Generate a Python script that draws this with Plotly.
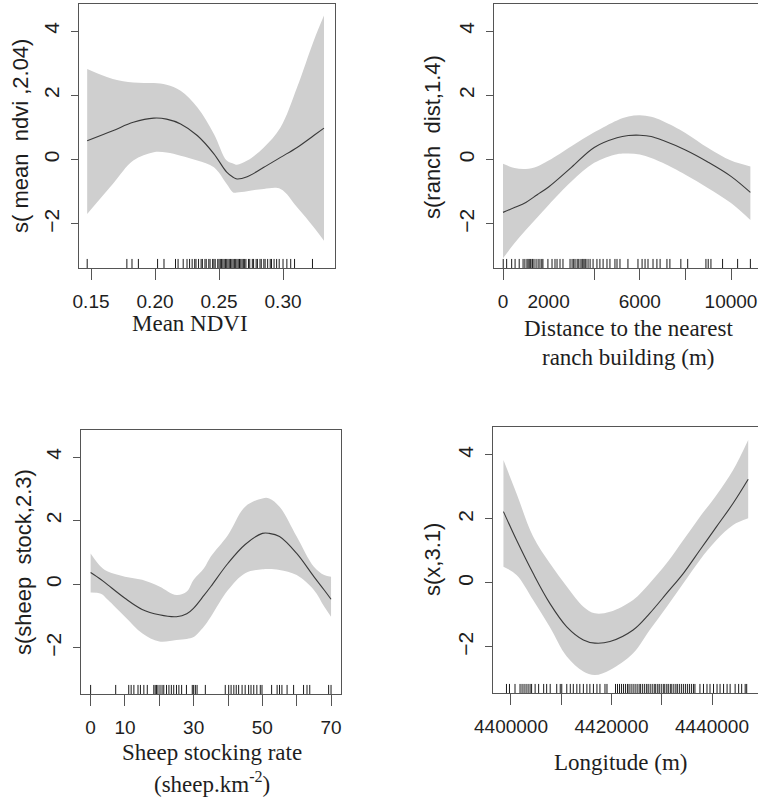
import plotly.graph_objects as go

# ---------------- Data ----------------
# Panel 1: Mean NDVI
ndvi_x = [0.147, 0.167, 0.183, 0.199, 0.209, 0.220, 0.233, 0.246, 0.256, 0.261, 0.264,
          0.272, 0.285, 0.298, 0.311, 0.324, 0.332]
ndvi_fit = [0.59, 0.90, 1.16, 1.29, 1.26, 1.11, 0.75, 0.18, -0.39, -0.55, -0.60,
            -0.53, -0.24, 0.07, 0.38, 0.75, 0.98]
ndvi_upper = [2.82, 2.51, 2.40, 2.38, 2.33, 2.14, 1.63, 0.80, -0.03, -0.12, -0.16,
              -0.03, 0.38, 1.00, 2.25, 3.70, 4.48]
ndvi_lower = [-1.69, -0.76, -0.03, 0.23, 0.22, 0.12, -0.03, -0.24, -0.76, -1.02, -1.02,
              -0.98, -0.91, -0.91, -1.48, -2.10, -2.52]
ndvi_rug = [0.147, 0.178, 0.182, 0.187, 0.202, 0.207, 0.216, 0.218, 0.222, 0.225, 0.227,
            0.229, 0.231, 0.232, 0.234, 0.236, 0.237, 0.239, 0.240, 0.242, 0.243, 0.245,
            0.246, 0.247, 0.249, 0.250, 0.251, 0.252, 0.253, 0.254, 0.255, 0.256, 0.257,
            0.258, 0.259, 0.260, 0.261, 0.262, 0.263, 0.264, 0.265, 0.266, 0.267, 0.268,
            0.269, 0.270, 0.271, 0.273, 0.274, 0.276, 0.277, 0.279, 0.280, 0.282, 0.283,
            0.285, 0.286, 0.288, 0.290, 0.291, 0.293, 0.295, 0.297, 0.300, 0.303, 0.306,
            0.309, 0.323]

# Panel 2: Distance to the nearest ranch building (m)
ranch_x = [0, 500, 1000, 1500, 2000, 3000, 4000, 5000, 5500, 6000, 6500, 7000, 8000,
           9000, 10000, 10850]
ranch_fit = [-1.64, -1.49, -1.33, -1.09, -0.85, -0.24, 0.38, 0.68, 0.75, 0.76, 0.72,
             0.60, 0.30, -0.08, -0.52, -1.02]
ranch_upper = [-0.13, -0.26, -0.29, -0.21, -0.03, 0.42, 0.85, 1.22, 1.34, 1.38, 1.33,
               1.20, 0.83, 0.36, -0.03, -0.21]
ranch_lower = [-3.07, -2.60, -2.19, -1.80, -1.41, -0.68, -0.10, 0.17, 0.19, 0.16, 0.05,
               -0.10, -0.47, -0.89, -1.35, -1.88]
ranch_rug = [10, 160, 380, 530, 710, 880, 960, 1050, 1100, 1150, 1200, 1270, 1300, 1360,
             1450, 1540, 1620, 1700, 1750, 1970, 2150, 2280, 2370, 2500, 2630, 2940, 3030,
             3100, 3160, 3250, 3300, 3380, 3460, 3500, 3550, 3600, 3640, 3730, 3820, 3950,
             4120, 4250, 4390, 4560, 4690, 4910, 5000, 5130, 5480, 5920, 6100, 6230, 6360,
             6580, 6750, 6890, 7190, 7320, 7800, 8100, 8900, 9000, 9120, 9630, 10290, 10850]

# Panel 3: Sheep stocking rate
sheep_x = [0, 3, 5, 10, 15, 20, 25, 28, 30, 33, 35, 40, 45, 50, 52, 55, 60, 65, 68, 70]
sheep_fit = [0.37, 0.15, -0.02, -0.44, -0.79, -0.96, -1.02, -0.93, -0.75, -0.35, -0.07,
             0.66, 1.25, 1.60, 1.60, 1.50, 0.97, 0.24, -0.18, -0.47]
sheep_upper = [0.97, 0.55, 0.40, 0.24, 0.14, -0.07, -0.34, -0.23, 0.14, 0.50, 0.87,
               1.55, 2.44, 2.70, 2.70, 2.44, 1.50, 0.55, 0.29, 0.24]
sheep_lower = [-0.26, -0.30, -0.49, -1.02, -1.54, -1.80, -1.75, -1.72, -1.66, -1.33,
               -1.02, -0.18, 0.35, 0.47, 0.48, 0.45, 0.29, -0.18, -0.70, -1.02]
sheep_rug = [0, 7.3, 11.1, 11.8, 12.6, 13.8, 14.5, 15.5, 16.5, 18.4, 18.8, 19.2, 19.6,
             20.2, 20.8, 21.3, 22.1, 22.8, 23.5, 24.2, 25.0, 25.7, 26.5, 27.9, 29.6, 30.0,
             30.5, 31.0, 33.4, 39.2, 40.2, 40.9, 41.7, 42.4, 43.1, 44.1, 45.0, 46.0, 46.7,
             47.5, 48.4, 49.4, 49.9, 52.7, 54.3, 55.0, 55.7, 57.2, 59.1, 62.0, 63.0, 63.8,
             69.3, 70.0]

# Panel 4: Longitude (m)
lon_x = [4398500, 4401100, 4404400, 4407700, 4411100, 4414400, 4416700, 4419700,
         4424300, 4427600, 4431000, 4434300, 4437600, 4440900, 4444200, 4447200]
lon_fit = [2.23, 1.34, 0.30, -0.63, -1.37, -1.78, -1.88, -1.83, -1.47, -0.95, -0.32,
           0.30, 1.03, 1.76, 2.49, 3.24]
lon_upper = [3.84, 2.80, 1.45, 0.62, -0.11, -0.74, -0.95, -0.90, -0.53, -0.01, 0.62,
             1.34, 2.07, 2.75, 3.53, 4.47]
lon_lower = [0.51, 0.25, -0.53, -1.37, -2.30, -2.77, -2.88, -2.72, -2.20, -1.47, -0.74,
             -0.01, 0.72, 1.34, 1.81, 2.02]
lon_rug = [4399100, 4399700, 4400800, 4401800, 4402200, 4402600, 4403000, 4403400,
           4403800, 4404100, 4404800, 4405500, 4406500, 4407100, 4407800, 4409100,
           4409800, 4410100, 4411100, 4411800, 4412400, 4413100, 4413700, 4414400,
           4415100, 4415700, 4416400, 4417100, 4417700, 4418700, 4419100, 4420800,
           4421200, 4421600, 4422000, 4422400, 4422800, 4423200, 4423500, 4423900,
           4424300, 4424700, 4425100, 4425500, 4425800, 4426200, 4426600, 4427000,
           4427300, 4427700, 4428100, 4428500, 4428800, 4429200, 4429500, 4429900,
           4430300, 4430600, 4431000, 4431300, 4431700, 4432000, 4432400, 4432800,
           4433100, 4433500, 4433900, 4434300, 4434700, 4435100, 4435500, 4435900,
           4436300, 4436600, 4437600, 4438300, 4439000, 4439600, 4440300, 4441000,
           4441600, 4442300, 4443000, 4443600, 4444600, 4445300, 4445900, 4446600,
           4446900]

# Tick labels
y_tickvals = [-2, 0, 2, 4]
y_ticktext = ["\u22122", "0", "2", "4"]
ndvi_labels = [0.15, 0.20, 0.25, 0.30]
ndvi_labeltext = ["0.15", "0.20", "0.25", "0.30"]
ndvi_ticks = [0.15, 0.20, 0.25, 0.30]
ranch_labels = [0, 2000, 6000, 10000]
ranch_labeltext = ["0", "2000", "6000", "10000"]
ranch_ticks = [0, 4000, 6000, 8000, 10000]
sheep_labels = [0, 10, 30, 50, 70]
sheep_labeltext = ["0", "10", "30", "50", "70"]
sheep_ticks = [0, 10, 20, 30, 40, 50, 60, 70]
lon_labels = [4400000, 4420000, 4440000]
lon_labeltext = ["4400000", "4420000", "4440000"]
lon_ticks = [4400000, 4410000, 4420000, 4430000, 4440000]

# ---------------- Layout constants ----------------
W, H = 758, 797
BAND = "#cfcfcf"
LINE = "#3a3a3a"
AXC = "#555555"
TXT = "#1e1e1e"
SANS = "Liberation Sans, Arial, sans-serif"
SERIF = "Liberation Serif, Times New Roman, serif"

panels = [
    dict(x=ndvi_x, fit=ndvi_fit, up=ndvi_upper, lo=ndvi_lower, rug=ndvi_rug,
         box=(79, 335, 4, 268), xr=[0.1406, 0.3406], yr=[-3.37, 4.84],
         lv=ndvi_labels, lt=ndvi_labeltext, tv=ndvi_ticks,
         ytitle="s( mean\u00a0\u00a0ndvi ,2.04)", ytpos=(20, 136),
         xtitle=["Mean NDVI"], xtpos=(190, [324])),
    dict(x=ranch_x, fit=ranch_fit, up=ranch_upper, lo=ranch_lower, rug=ranch_rug,
         box=(494, 758, 4, 268), xr=[-395, 11184], yr=[-3.37, 4.84],
         lv=ranch_labels, lt=ranch_labeltext, tv=ranch_ticks,
         ytitle="s(ranch\u00a0\u00a0dist,1.4)", ytpos=(432, 137),
         xtitle=["Distance to the nearest", "ranch building (m)"], xtpos=(628, [328, 357])),
    dict(x=sheep_x, fit=sheep_fit, up=sheep_upper, lo=sheep_lower, rug=sheep_rug,
         box=(81, 341, 430, 694), xr=[-2.8, 72.9], yr=[-3.45, 4.85],
         lv=sheep_labels, lt=sheep_labeltext, tv=sheep_ticks,
         ytitle="s(sheep\u00a0\u00a0stock,2.3)", ytpos=(23, 562),
         xtitle=["Sheep stocking rate", "(sheep.km<sup>-2</sup>)"], xtpos=(212, [752, 782])),
    dict(x=lon_x, fit=lon_fit, up=lon_upper, lo=lon_lower, rug=lon_rug,
         box=(493, 758, 427, 693), xr=[4396420, 4449150], yr=[-3.44, 4.875],
         lv=lon_labels, lt=lon_labeltext, tv=lon_ticks,
         ytitle="s(x,3.1)", ytpos=(432, 560),
         xtitle=["Longitude (m)"], xtpos=(621, [762])),
]

fig = go.Figure()
layout = dict(width=W, height=H, margin=dict(l=0, r=0, t=0, b=0),
              paper_bgcolor="white", plot_bgcolor="white", showlegend=False,
              annotations=[])

for i, p in enumerate(panels, start=1):
    xa, ya = ("x" if i == 1 else f"x{i}"), ("y" if i == 1 else f"y{i}")
    xlab = f"x{i + 4}"  # overlay axis carrying the tick labels (and the rug)
    # confidence band
    fig.add_trace(go.Scatter(x=p["x"], y=p["lo"], mode="lines",
                             line=dict(width=0, shape="spline", color=BAND),
                             xaxis=xa, yaxis=ya, hoverinfo="skip"))
    fig.add_trace(go.Scatter(x=p["x"], y=p["up"], mode="lines", fill="tonexty", fillcolor=BAND,
                             line=dict(width=0, shape="spline", color=BAND), xaxis=xa, yaxis=ya,
                             hoverinfo="skip"))
    # fitted smooth
    fig.add_trace(go.Scatter(x=p["x"], y=p["fit"], mode="lines",
                             line=dict(width=1.1, shape="spline", color=LINE), xaxis=xa, yaxis=ya))
    # rug
    x0, x1, y0, y1 = p["box"]
    hpx = y1 - y0
    rug_y = p["yr"][0] + (p["yr"][1] - p["yr"][0]) * 3.8 / hpx
    fig.add_trace(go.Scatter(x=p["rug"], y=[rug_y] * len(p["rug"]), mode="markers",
                             marker=dict(symbol="line-ns", size=7.5,
                                         line=dict(width=1, color="#1a1a1a")),
                             xaxis=xlab, yaxis=ya, hoverinfo="skip"))

    xdom = [x0 / W, min(1.0, x1 / W)]
    ydom = [1 - y1 / H, 1 - y0 / H]
    key = "" if i == 1 else str(i)
    # main x axis: box + visible tick marks
    layout["xaxis" + key] = dict(
        domain=xdom, anchor=ya, range=p["xr"], showgrid=False, zeroline=False,
        showline=True, mirror=True, linecolor=AXC, linewidth=1,
        tickmode="array", tickvals=p["tv"], showticklabels=False,
        ticks="outside", ticklen=11, tickwidth=1, tickcolor=AXC,
        automargin=False, fixedrange=True)
    # overlay x axis: labels only
    layout[f"xaxis{i + 4}"] = dict(
        overlaying=xa, anchor=ya, side="bottom", domain=xdom, range=p["xr"],
        showgrid=False, zeroline=False, showline=False,
        tickmode="array", tickvals=p["lv"], ticktext=p["lt"],
        ticks="outside", ticklen=11, tickcolor="rgba(0,0,0,0)", ticklabelstandoff=5,
        tickfont=dict(family=SANS, size=19, color=TXT),
        automargin=False, fixedrange=True)
    layout["yaxis" + key] = dict(
        domain=ydom, anchor=xa, range=p["yr"], showgrid=False, zeroline=False,
        showline=True, mirror=True, linecolor=AXC, linewidth=1,
        tickmode="array", tickvals=y_tickvals, ticktext=y_ticktext,
        ticks="outside", ticklen=7, tickwidth=1, tickcolor=AXC, tickangle=-90,
        ticklabelstandoff=4,
        tickfont=dict(family=SANS, size=21, color=TXT),
        automargin=False, fixedrange=True)

    layout["annotations"].append(dict(
        text=p["ytitle"], x=p["ytpos"][0] / W, y=1 - p["ytpos"][1] / H,
        xref="paper", yref="paper", xanchor="center", yanchor="middle",
        textangle=-90, showarrow=False, font=dict(family=SANS, size=22, color=TXT)))
    for line_text, ly in zip(p["xtitle"], p["xtpos"][1]):
        layout["annotations"].append(dict(
            text=line_text, x=p["xtpos"][0] / W, y=1 - ly / H,
            xref="paper", yref="paper", xanchor="center", yanchor="middle",
            showarrow=False, font=dict(family=SERIF, size=23, color=TXT)))

fig.update_layout(**layout)
fig.write_html("out.html", config={"displayModeBar": False},
               post_script="document.body.style.margin='0';document.body.style.overflow='hidden';")
